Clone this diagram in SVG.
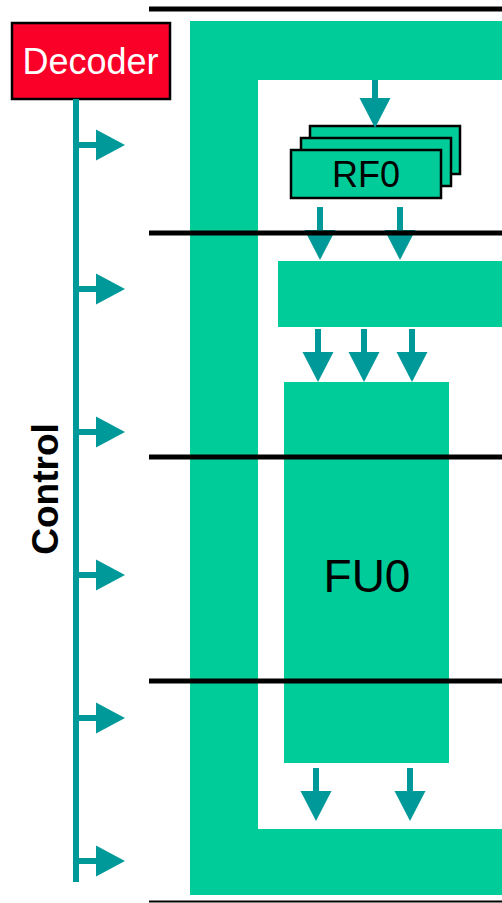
<svg xmlns="http://www.w3.org/2000/svg" width="502" height="903" viewBox="0 0 502 903">
<style>
.g{fill:#00CC99}
.rf{fill:#00CC99;stroke:#000;stroke-width:2.5}
.ar{fill:#009999}
.sh{stroke:#009999;stroke-width:6;fill:none}
.bus{stroke:#000;stroke-width:5}
.t{font-family:"Liberation Sans",Arial,sans-serif}
</style>
<defs>
<g id="dn"><rect x="-3" y="0" width="6" height="24" class="ar"/><polygon points="-15.5,23 15.5,23 0,53" class="ar"/></g>
<g id="rt"><rect x="0" y="-3" width="21" height="6" class="ar"/><polygon points="20,-15.5 49,0 20,15.5" class="ar"/></g>
</defs>
<rect width="502" height="903" fill="#fff"/>
<g id="datapath">
<path class="g" d="M190,21 H502 V80 H258 V829 H502 V895 H190 Z"/>
</g>
<g id="mid"><rect x="278" y="261" width="224" height="66" class="g"/></g>
<g id="fu0"><rect x="284" y="382" width="165" height="381" class="g"/>
<text x="367" y="592" font-size="46" text-anchor="middle" class="t">FU0</text></g>
<g id="rf0">
<rect x="310" y="126" width="150" height="48" class="rf"/>
<rect x="301" y="138" width="150" height="48" class="rf"/>
<rect x="291" y="150" width="150" height="48" class="rf"/>
<text x="366" y="187" font-size="36" text-anchor="middle" class="t">RF0</text>
</g>
<g id="decoder">
<rect x="12" y="23" width="158" height="76" fill="#FA0028" stroke="#000" stroke-width="2.5"/>
<text x="90.5" y="74" font-size="36" fill="#fff" text-anchor="middle" class="t">Decoder</text>
</g>
<g id="control">
<text transform="translate(58,489) rotate(-90)" font-size="37" font-weight="bold" text-anchor="middle" class="t">Control</text>
</g>
<g id="connectors">
<line x1="76" y1="99" x2="76" y2="882" class="sh"/>
<use href="#rt" x="76" y="145"/>
<use href="#rt" x="76" y="289"/>
<use href="#rt" x="76" y="432"/>
<use href="#rt" x="76" y="575"/>
<use href="#rt" x="76" y="718"/>
<use href="#rt" x="76" y="861"/>
<rect x="372" y="80" width="6" height="20" class="ar"/><polygon points="359.5,98 390.5,98 375,128" class="ar"/>
<use href="#dn" x="320" y="207"/>
<use href="#dn" x="400" y="207"/>
<use href="#dn" x="318" y="329"/>
<use href="#dn" x="364" y="329"/>
<use href="#dn" x="412" y="329"/>
<use href="#dn" x="316" y="768"/>
<use href="#dn" x="410" y="768"/>
</g>
<g id="buses">
<line x1="149" y1="9" x2="502" y2="9" class="bus"/>
<line x1="149" y1="233" x2="502" y2="233" class="bus"/>
<line x1="149" y1="457" x2="502" y2="457" class="bus"/>
<line x1="149" y1="681" x2="502" y2="681" class="bus"/>
<line x1="149" y1="901.5" x2="502" y2="901.5" stroke="#000" stroke-width="2"/>
</g>
</svg>
